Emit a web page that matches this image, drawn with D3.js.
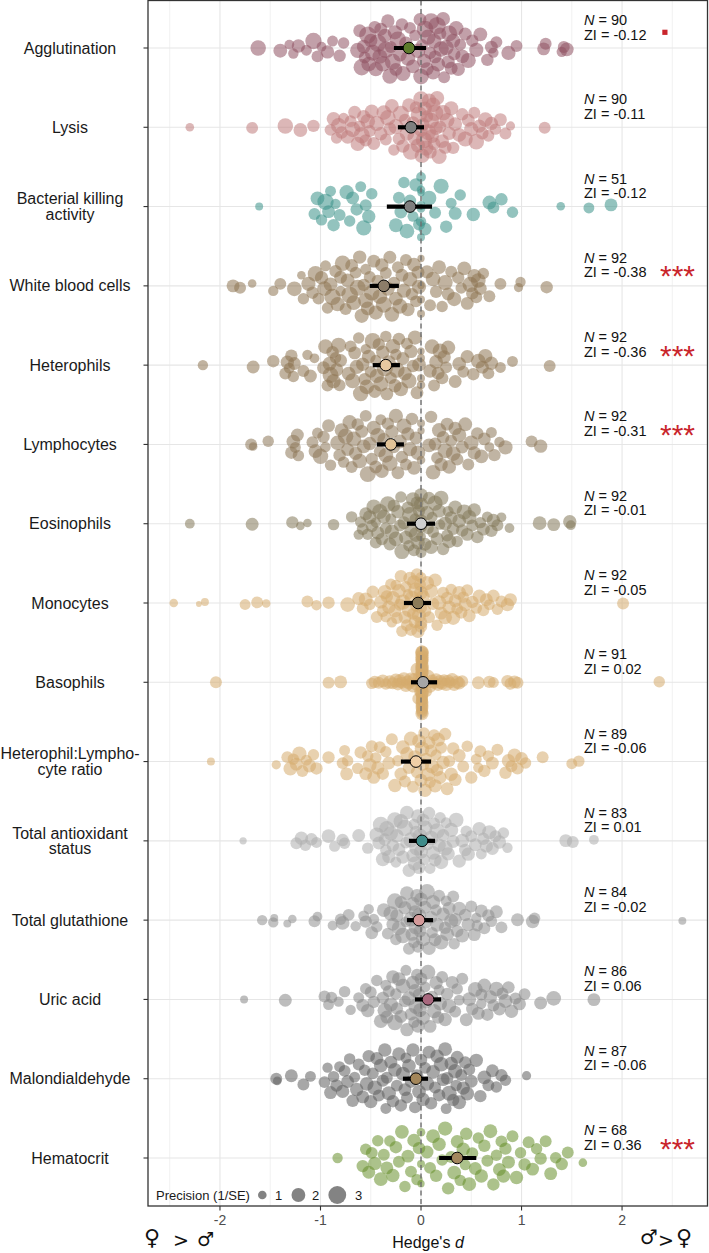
<!DOCTYPE html>
<html><head><meta charset="utf-8">
<script src="https://cdn.jsdelivr.net/npm/d3@7"></script>
<style>body{margin:0;background:#fff}svg text{font-family:"Liberation Sans",Arial,Helvetica,sans-serif}</style>
</head><body><svg id="c" width="709" height="1253"></svg>
<script>
const categories = ["Agglutination","Lysis","Bacterial killing activity","White blood cells","Heterophils","Lymphocytes","Eosinophils","Monocytes","Basophils","Heterophil:Lymphocyte ratio","Total antioxidant status","Total glutathione","Uric acid","Malondialdehyde","Hematocrit"];
const categoryLines = [["Agglutination"],["Lysis"],["Bacterial killing","activity"],["White blood cells"],["Heterophils"],["Lymphocytes"],["Eosinophils"],["Monocytes"],["Basophils"],["Heterophil:Lympho-","cyte ratio"],["Total antioxidant","status"],["Total glutathione"],["Uric acid"],["Malondialdehyde"],["Hematocrit"]];
const nValues = [90,90,51,92,92,92,92,92,91,89,83,84,86,87,68];
const ziValues = ["-0.12","-0.11","-0.12","-0.38","-0.36","-0.31","-0.01","-0.05","0.02","-0.06","0.01","-0.02","0.06","-0.06","0.36"];
const significance = [".","","","***","***","***","","","","","","","","","***"];
const estimates = [-0.12,-0.10,-0.11,-0.37,-0.35,-0.30,0.00,-0.03,0.02,-0.05,0.01,-0.02,0.07,-0.05,0.36];
const ciLow = [-0.27,-0.23,-0.34,-0.51,-0.48,-0.44,-0.14,-0.17,-0.10,-0.20,-0.12,-0.14,-0.06,-0.18,0.18];
const ciHigh = [0.05,0.03,0.11,-0.22,-0.21,-0.17,0.14,0.10,0.16,0.10,0.14,0.12,0.20,0.07,0.55];
const pointColors = ["#8f5263","#bf7b7b","#3a9189","#8e7552","#8e7552","#8c7657","#837859","#d6ab6e","#d6ab6e","#d6ab6e","#adadad","#909090","#868686","#5f5f5f","#67902c"];
const estimateFills = ["#5d7b2c","#7f7f7f","#7f7f7f","#8c7d69","#e8c9a1","#e3c497","#cfcfcf","#8c7b58","#a6a6a6","#f0cfa6","#3f8c8a","#d49a9a","#a8687e","#a3865a","#a3875e"];
const xTicks = [-2,-1,0,1,2];
const xTickLabels = ["-2","-1","0","1","2"];
const legendPrecision = [1,2,3];

// [Hedges' d, precision (1/SE)]
const agglutination = [[-1.62,2.4],[-1.40,2.0],[-1.31,1.2],[-1.27,1.3],[-1.22,1.9],[-1.14,1.4],[-1.07,2.6],[-1.03,1.6],[-0.99,1.2],[-0.93,1.9],[-0.88,1.4],[-0.81,1.7],[-0.77,1.5],
[-0.63,2.3],[-0.61,1.8],[-0.59,2.6],[-0.57,2.0],[-0.56,1.6],[-0.53,2.8],[-0.52,2.2],[-0.50,1.9],[-0.48,2.5],[-0.46,1.7],[-0.45,2.1],[-0.43,2.9],[-0.41,2.2],[-0.40,1.8],[-0.38,2.4],[-0.36,2.0],[-0.35,2.7],[-0.33,1.9],[-0.31,2.3],[-0.30,1.6],[-0.28,2.5],[-0.26,2.1],[-0.25,1.8],[-0.23,2.6],[-0.21,2.0],[-0.19,1.7],[-0.18,2.3],[-0.15,1.9],[-0.13,2.2],[-0.11,1.6],[-0.08,2.0],[-0.06,1.5],
[-0.03,2.2],[-0.01,1.8],[0.00,2.4],[0.01,1.6],[0.03,2.1],[0.04,2.7],[0.06,1.9],[0.07,2.3],[0.09,1.7],[0.10,2.6],[0.12,2.0],[0.13,2.2],[0.14,1.8],[0.16,2.9],[0.17,2.1],[0.19,1.7],[0.20,2.4],[0.22,2.0],[0.23,1.6],[0.25,2.3],[0.27,1.9],[0.28,2.5],[0.30,1.8],[0.32,2.1],[0.33,1.7],[0.35,2.2],[0.37,1.9],[0.39,1.6],[0.41,2.0],[0.44,1.8],[0.47,2.3],[0.51,1.7],[0.55,2.1],[0.59,2.0],
[0.66,1.7],[0.70,1.8],[0.72,1.3],[0.75,1.6],[0.87,2.1],[0.95,1.6],[1.22,1.8],[1.24,1.6],[1.40,1.3],[1.42,1.6],[1.45,2.0]];
const lysis = [[-2.30,1.0],[-1.68,1.6],[-1.35,2.4],[-1.20,2.0],[-1.07,1.7],
[-0.90,1.6],[-0.87,2.0],[-0.84,1.5],[-0.82,2.3],[-0.79,1.7],[-0.77,1.4],[-0.73,1.9],[-0.70,1.6],[-0.68,2.4],[-0.66,1.8],[-0.63,2.1],[-0.61,1.5],[-0.59,2.6],[-0.57,1.9],[-0.55,1.7],[-0.53,2.2],[-0.51,1.6],[-0.49,2.0],[-0.47,1.8],[-0.44,2.3],
[-0.40,1.9],[-0.37,2.2],[-0.35,1.6],[-0.33,2.4],[-0.31,1.8],[-0.29,2.0],[-0.27,1.5],[-0.25,2.3],[-0.22,1.7],[-0.20,2.5],[-0.18,1.9],[-0.16,1.6],[-0.14,2.2],[-0.12,2.0],[-0.10,2.6],[-0.08,1.8],[-0.06,2.3],[-0.05,1.7],[-0.03,2.1],[-0.02,2.7],[0.00,1.9],[0.00,2.4],[0.01,2.2],[0.02,1.8],[0.03,2.6],[0.04,2.0],[0.05,2.3],[0.06,1.7],[0.07,2.5],[0.08,2.1],[0.09,1.9],[0.10,2.4],[0.11,2.0],[0.12,2.2],[0.13,1.8],[0.14,2.6],[0.15,1.9],[0.16,2.1],[0.18,2.3],[0.19,1.7],[0.21,2.0],[0.22,2.4],[0.24,1.8],[0.26,2.2],[0.28,1.9],[0.30,2.1],[0.32,1.7],[0.34,2.0],
[0.38,2.0],[0.41,1.7],[0.44,2.3],[0.47,1.8],[0.50,2.1],[0.53,1.6],[0.55,2.4],[0.58,1.9],[0.61,1.7],[0.64,2.2],[0.67,1.6],[0.70,1.9],[0.74,1.5],[0.79,1.8],[0.84,1.6],[0.89,1.1],[1.23,1.6]];
const bacterialKilling = [[-1.61,0.9],
[-1.06,1.6],[-1.03,2.0],[-0.99,1.5],[-0.95,2.6],[-0.92,1.8],[-0.90,1.4],[-0.87,1.7],[-0.85,1.3],[-0.81,1.6],[-0.74,2.1],[-0.71,1.5],[-0.68,1.8],[-0.64,1.7],[-0.60,1.4],[-0.57,2.3],[-0.55,1.6],[-0.52,1.9],[-0.49,1.5],
[-0.25,2.0],[-0.22,1.6],[-0.20,1.8],[-0.17,1.5],[-0.14,2.2],[-0.11,1.7],[-0.08,1.4],[-0.05,1.9],[-0.02,1.6],[0,0.8],[0,1.0],[0,1.2],[0,0.9],[0,1.1],[0,1.3],[0,1.0],[0.04,1.8],[0.08,2.2],[0.14,1.6],[0.20,2.3],
[0.25,1.7],[0.30,1.4],[0.34,1.8],[0.39,1.5],[0.52,1.9],[0.68,2.0],[0.72,1.6],[0.80,1.7],[0.91,1.5],[1.39,1.0],[1.67,1.4],[1.89,1.8]];
const whiteBloodCells = [[-1.87,1.8],[-1.80,1.6],[-1.68,1.0],[-1.47,1.3],[-1.40,1.6],[-1.26,2.2],[-1.19,1.0],
[-1.17,1.5],[-1.12,2.1],[-1.08,1.7],[-1.05,2.4],[-1.02,1.6],[-0.99,1.9],[-0.96,2.2],[-0.93,1.5],[-0.90,2.0],[-0.88,2.6],[-0.85,1.7],[-0.83,2.1],[-0.80,1.8],[-0.78,2.4],[-0.75,1.6],[-0.73,2.0],[-0.71,2.7],[-0.69,1.8],[-0.67,2.2],[-0.65,1.6],[-0.63,2.5],[-0.61,1.9],[-0.59,2.1],[-0.57,1.7],[-0.55,2.3],[-0.53,2.0],[-0.51,1.6],[-0.49,2.4],[-0.47,1.8],[-0.45,2.1],[-0.43,1.7],[-0.41,2.2],[-0.39,1.9],[-0.37,2.5],[-0.35,1.6],[-0.33,2.0],[-0.31,1.8],[-0.29,2.2],[-0.27,1.7],[-0.25,2.0],[-0.23,1.6],[-0.21,2.3],[-0.19,1.8],[-0.17,2.1],[-0.15,1.6],[-0.13,1.9],[-0.11,2.2],[-0.09,1.7],[-0.07,2.0],[-0.05,1.6],[-0.03,1.8],[-0.02,2.1],[-0.55,1.4],[-0.80,1.3],[-0.95,1.4],
[0,0.8],[0,0.9],[0,0.8],[0,0.9],
[0.06,1.9],[0.09,1.6],[0.12,2.2],[0.15,1.7],[0.18,2.0],[0.21,1.5],[0.24,2.3],[0.27,1.8],[0.30,1.6],[0.33,2.1],[0.37,1.7],[0.40,1.5],[0.43,2.0],[0.46,1.8],[0.49,2.4],[0.51,1.7],[0.53,2.0],[0.55,1.6],[0.57,2.2],[0.59,1.8],[0.62,1.5],
[0.68,1.6],[0.79,1.6],[0.97,1.1],[0.99,1.3],[1.25,1.7]];
const heterophils = [[-2.17,1.3],[-1.67,1.8],[-1.47,1.7],
[-1.35,1.6],[-1.33,1.9],[-1.31,1.4],[-1.29,1.7],[-1.27,1.5],[-1.26,1.8],[-1.17,1.6],[-1.13,1.3],[-1.10,1.8],[-1.06,1.2],
[-0.97,1.8],[-0.95,2.2],[-0.93,1.6],[-0.91,2.0],[-0.90,2.5],[-0.88,1.7],[-0.87,2.1],[-0.85,1.5],[-0.84,1.9],[-0.82,2.3],[-0.81,1.6],[-0.80,1.8],
[-0.72,2.0],[-0.70,1.6],[-0.68,2.3],[-0.66,1.8],[-0.64,2.1],[-0.62,1.5],[-0.60,2.4],[-0.58,1.9],[-0.56,1.7],[-0.54,2.2],[-0.52,2.0],[-0.50,1.6],[-0.48,2.5],[-0.46,1.8],[-0.44,2.1],[-0.42,1.7],[-0.40,2.3],[-0.38,1.9],[-0.36,2.6],[-0.34,1.8],[-0.32,2.0],[-0.30,1.6],[-0.28,2.2],[-0.26,1.9],[-0.24,2.4],[-0.22,1.7],[-0.20,2.1],[-0.18,1.8],[-0.16,2.0],[-0.14,1.6],[-0.12,2.3],[-0.10,1.9],[-0.08,1.7],[-0.06,2.1],[-0.04,1.8],[-0.02,2.0],[-0.35,1.5],[-0.45,1.4],[-0.25,1.5],[-0.55,1.3],
[0,0.9],[0,0.8],[0,1.0],[0,0.9],
[0.09,1.9],[0.11,2.2],[0.13,1.6],[0.15,2.0],[0.17,1.8],[0.19,2.3],[0.21,1.7],[0.23,1.9],[0.25,1.6],[0.27,2.1],
[0.34,1.8],[0.38,2.0],[0.42,1.6],[0.46,1.9],[0.52,1.7],[0.57,2.2],[0.61,1.8],[0.64,2.1],[0.67,1.6],[0.70,1.9],
[0.79,1.4],[0.91,1.4],[1.28,1.6]];
const lymphocytes = [[-1.69,1.6],[-1.67,1.0],[-1.52,1.5],
[-1.29,1.7],[-1.27,2.0],[-1.25,1.4],[-1.23,1.8],[-1.22,1.5],
[-1.08,1.6],[-1.05,2.0],[-1.03,1.4],[-1.00,2.4],[-0.97,1.7],[-0.95,1.3],[-0.92,1.8],[-0.90,1.5],
[-0.83,2.2],[-0.81,1.7],[-0.79,2.0],[-0.77,1.5],[-0.75,2.4],[-0.73,1.8],[-0.71,2.1],[-0.69,1.6],[-0.67,2.3],[-0.65,1.9],[-0.63,1.7],[-0.61,2.2],[-0.59,1.8],[-0.57,2.0],[-0.55,1.6],[-0.53,2.5],[-0.51,1.9],[-0.49,1.7],[-0.47,2.1],[-0.45,1.8],[-0.43,2.3],[-0.41,1.6],[-0.39,2.0],[-0.37,1.8],[-0.35,2.2],[-0.33,1.7],[-0.31,2.4],[-0.29,1.9],[-0.27,1.6],[-0.25,2.1],[-0.23,1.8],[-0.21,2.0],[-0.19,1.7],[-0.17,2.3],[-0.15,1.6],[-0.13,1.9],[-0.11,2.1],[-0.09,1.7],[-0.07,2.0],[-0.05,1.8],[-0.03,2.2],[-0.40,1.4],
[0,0.9],[0,1.0],[0,0.8],
[0.08,2.0],[0.10,1.7],[0.12,2.2],[0.14,1.8],[0.16,1.6],[0.18,2.1],[0.20,1.9],[0.22,1.7],[0.24,2.3],[0.26,1.8],[0.28,2.0],[0.30,1.6],[0.32,2.2],[0.34,1.9],[0.36,1.7],[0.38,2.1],[0.41,1.8],[0.44,2.0],[0.47,1.6],[0.50,2.2],[0.53,1.9],[0.56,1.7],[0.60,2.0],[0.63,1.8],
[0.68,1.2],[0.73,1.7],[0.84,2.1],[1.10,1.6],[1.19,1.9],[0.70,1.4],[0.78,1.3]];
const eosinophils = [[-2.30,1.2],[-1.68,1.8],[-1.28,1.7],[-1.20,1.0],[-1.13,1.0],[-0.87,1.5],[-0.69,1.5],[-0.60,1.5],
[-0.55,1.8],[-0.53,1.5],[-0.51,2.0],[-0.49,1.7],[-0.47,2.2],[-0.45,1.6],[-0.43,1.9],[-0.41,2.3],[-0.39,1.7],[-0.37,2.0],[-0.35,1.6],[-0.33,2.4],[-0.31,1.8],[-0.29,2.1],[-0.27,1.7],[-0.25,2.2],[-0.23,1.9],[-0.21,1.6],[-0.19,2.3],[-0.17,1.8],[-0.15,2.0],[-0.13,1.7],[-0.11,2.5],[-0.10,1.9],[-0.08,2.1],[-0.07,1.6],[-0.05,2.2],[-0.04,1.8],[-0.03,2.0],[-0.02,1.7],[-0.30,1.4],[-0.20,1.5],[-0.12,1.5],[-0.45,1.3],[-0.06,1.4],
[0,1.6],[0,2.0],[0,1.4],[0,1.8],[0,1.2],[0,2.2],
[0.04,1.8],[0.06,2.1],[0.08,1.7],[0.10,2.0],[0.12,1.6],[0.14,2.3],[0.16,1.8],[0.18,1.9],[0.20,2.2],[0.22,1.7],[0.24,2.0],[0.26,1.6],[0.28,2.1],[0.30,1.8],[0.32,1.7],[0.34,2.0],[0.11,1.4],[0.19,1.3],[0.27,1.4],[0.07,1.5],
[0.38,2.0],[0.41,1.7],[0.43,2.3],[0.46,1.8],[0.48,2.1],[0.51,1.6],[0.53,1.9],[0.56,1.7],[0.59,1.5],[0.62,1.8],[0.66,1.4],[0.70,1.7],[0.72,1.9],[0.76,1.6],[0.80,1.2],
[1.18,2.0],[1.32,1.8],[1.48,1.9],[1.49,1.2],[-0.62,1.3],[-0.58,1.6],[0.88,1.2],[0.36,1.5]];
const monocytes = [[-2.46,1.0],[-2.21,0.6],[-2.15,0.9],[-1.75,1.4],[-1.63,1.6],[-1.54,1.0],[-1.13,1.6],[-1.04,1.3],[-0.92,1.7],[-0.73,2.2],
[-0.62,1.8],[-0.58,1.6],[-0.55,2.0],[-0.51,1.5],[-0.48,1.7],[-0.44,1.6],
[-0.40,1.9],[-0.38,1.6],[-0.36,2.1],[-0.34,1.7],[-0.32,1.9],[-0.30,1.5],[-0.28,2.2],[-0.26,1.8],[-0.24,1.6],[-0.22,2.0],[-0.20,1.7],[-0.18,2.3],[-0.16,1.8],[-0.14,1.6],[-0.12,2.1],[-0.11,1.9],[-0.10,1.7],[-0.09,2.2],[-0.08,1.6],[-0.07,2.0],[-0.06,1.8],[-0.05,2.4],[-0.04,1.7],[-0.03,1.9],[-0.02,2.1],[-0.01,1.6],[-0.35,1.4],[-0.25,1.4],[-0.15,1.5],[-0.13,1.3],[-0.19,1.5],[-0.29,1.3],[-0.21,1.6],[-0.05,1.5],[-0.03,1.4],
[0,1.8],[0,2.0],[0,1.6],[0,1.4],[0,1.7],
[0.02,1.9],[0.04,1.7],[0.06,2.1],[0.08,1.6],[0.10,2.0],[0.12,1.7],[0.14,1.9],[0.16,1.5],[0.18,2.2],[0.20,1.8],[0.22,1.6],[0.24,2.0],[0.26,1.7],[0.28,1.9],[0.30,1.5],[0.32,2.1],[0.34,1.8],[0.36,1.6],[0.38,2.0],[0.40,1.7],[0.42,1.5],[0.44,1.9],[0.46,1.6],[0.48,1.8],
[0.51,1.7],[0.55,1.5],[0.58,1.9],[0.62,1.6],[0.65,1.8],[0.68,1.4],[0.72,1.7],[0.76,1.5],[0.80,1.6],[0.86,1.9],[0.89,1.8],[2.01,1.6]];
const basophils = [[-2.04,1.6],[-0.92,1.6],[-0.80,1.8],
[-0.49,1.5],[-0.46,1.7],[-0.42,1.6],[-0.38,1.8],[-0.35,1.5],[-0.31,1.9],[-0.28,1.6],[-0.25,2.0],[-0.23,1.7],
[-0.21,1.9],[-0.19,1.6],[-0.17,2.0],[-0.15,1.7],[-0.13,1.8],[-0.12,1.5],[-0.10,2.1],[-0.08,1.7],[-0.07,1.9],[-0.05,1.6],[-0.04,1.8],[-0.03,1.5],[-0.02,1.7],[-0.01,1.6],
[0.01,1.8],[0.01,1.6],[0.01,1.9],[0.01,1.7],[0.01,2.0],[0.01,1.5],[0.01,1.8],[0.01,1.6],[0.01,1.9],[0.01,1.7],[0.01,1.8],[0.01,1.6],[0.01,2.0],[0.01,1.7],[0.01,1.5],[0.01,1.9],[0.01,1.8],[0.01,1.6],[0.01,1.7],[0.01,1.9],[0.01,1.8],[0.01,1.6],[0.01,2.0],[0.01,1.7],[0.01,1.5],[0.01,1.8],[0.01,1.9],[0.01,1.6],[0.01,1.7],[0.01,1.8],[0.01,1.6],[0.01,1.9],[0.01,1.7],[0.01,1.5],[0.01,1.8],[0.01,1.6],[0.01,1.7],[0.01,1.9],
[0.03,1.8],[0.05,1.6],[0.07,2.0],[0.09,1.7],[0.11,1.9],[0.13,1.6],[0.15,1.8],[0.17,1.5],[0.19,2.0],[0.21,1.7],[0.23,1.6],[0.25,1.9],[0.27,1.7],[0.29,1.5],[0.31,1.8],[0.33,1.6],[0.36,1.9],[0.38,1.7],[0.41,1.6],
[0.57,1.8],[0.68,1.7],[0.72,1.4],[0.86,1.7],[0.89,1.6],[0.93,1.8],[0.96,1.6],[2.37,1.5]];
const hlRatio = [[-2.09,0.9],[-1.44,1.1],
[-1.33,1.6],[-1.30,2.0],[-1.27,1.5],[-1.24,1.8],[-1.21,2.1],[-1.18,1.6],[-1.14,1.4],[-1.11,1.9],[-1.07,1.5],[-1.04,1.7],
[-0.92,1.7],[-0.78,1.6],[-0.76,1.4],[-0.74,1.8],[-0.73,1.5],
[-0.55,1.8],[-0.53,1.5],[-0.51,2.0],[-0.49,1.6],[-0.47,1.8],[-0.45,1.5],[-0.43,1.9],[-0.41,1.6],[-0.38,1.7],[-0.35,1.5],[-0.32,1.8],[-0.29,1.6],[-0.26,1.9],[-0.23,1.5],
[-0.20,1.8],[-0.18,2.0],[-0.16,1.6],[-0.14,1.9],[-0.12,1.7],[-0.10,2.1],[-0.08,1.6],[-0.06,1.9],[-0.04,1.7],[-0.02,2.0],[0.00,1.8],[0.01,2.2],[0.02,1.7],[0.04,1.9],[0.05,1.6],[0.07,2.0],[0.08,1.8],[0.10,1.7],[0.11,2.1],[0.13,1.6],[0.14,1.9],[0.16,1.7],[0.17,2.0],[0.19,1.8],[0.20,1.6],[0.22,1.9],[0.24,1.7],[0.26,1.8],[0.28,1.6],[0.30,1.9],[0.32,1.7],[0.34,1.8],[0.09,1.5],[0.15,1.4],[0.03,1.5],
[0.38,1.8],[0.42,1.6],[0.46,1.5],[0.50,1.7],[0.55,1.4],[0.59,1.6],[0.63,1.7],[0.67,1.5],[0.71,1.8],[0.76,1.6],
[0.84,1.7],[0.87,1.9],[0.90,1.6],[0.93,2.0],[0.96,1.7],[1.00,1.8],[1.04,1.5],
[1.21,1.6],[1.50,1.4],[1.57,1.5],[-0.63,1.5],[-0.60,1.7],[0.57,1.3]];
const totalAntioxidant = [[-1.77,0.8],
[-1.24,1.6],[-1.19,1.9],[-1.15,1.5],[-1.09,1.7],[-1.04,1.4],
[-0.92,2.0],[-0.86,1.4],[-0.78,1.7],[-0.76,1.5],[-0.62,1.8],[-0.53,1.5],
[-0.44,2.2],[-0.42,1.8],[-0.40,2.5],[-0.38,2.0],[-0.36,1.7],[-0.34,2.3],[-0.32,1.9],[-0.30,2.1],[-0.28,1.7],[-0.26,2.4],[-0.24,2.0],[-0.22,1.8],[-0.20,2.2],[-0.18,1.9],[-0.16,2.6],[-0.14,2.0],[-0.12,1.8],[-0.10,2.3],[-0.08,1.9],[-0.06,2.1],[-0.05,1.7],[-0.04,2.4],[-0.03,2.0],[-0.02,1.8],[-0.01,2.2],
[0.00,2.0],[0.02,1.8],[0.04,2.3],[0.06,1.9],[0.08,1.7],[0.10,2.2],[0.12,2.0],[0.14,1.8],[0.16,2.4],[0.18,1.9],[0.20,2.1],[0.22,1.7],[0.24,2.3],[0.27,1.9],[0.30,2.1],[0.32,1.8],[0.35,2.2],[0.38,1.9],
[0.41,2.0],[0.44,1.7],[0.47,1.9],[0.50,1.6],[0.54,1.8],[0.58,2.0],[0.62,1.7],[0.65,1.9],[0.68,2.1],[0.71,1.8],[0.74,1.6],[0.78,1.9],[0.82,1.5],[0.86,1.3],
[1.44,1.8],[1.51,1.6],[1.72,1.2],
[-0.35,1.5],[-0.25,1.4],[-0.15,1.5],[-0.07,1.4],[0.03,1.5],[0.09,1.4],[0.13,1.6],[0.19,1.5],[0.25,1.4],[0.45,1.5],[0.60,1.4]];
const totalGlutathione = [[-1.58,1.3],[-1.47,1.3],[-1.46,0.9],[-1.33,0.9],[-1.28,1.0],[-1.06,1.6],[-1.03,1.2],[-0.88,1.2],[-0.78,2.0],[-0.72,1.6],[-0.57,1.4],[-0.55,1.7],[-0.52,1.3],[-0.49,1.8],[-0.47,1.4],[-0.44,1.5],[-0.37,2.0],[-0.33,1.6],[-0.80,1.5],
[-0.30,2.2],[-0.28,1.8],[-0.26,2.5],[-0.24,1.9],[-0.22,2.1],[-0.20,1.7],[-0.18,2.4],[-0.16,1.9],[-0.14,2.0],[-0.12,1.6],[-0.10,2.2],[-0.09,1.8],[-0.08,2.0],[-0.06,1.7],[-0.05,2.3],[-0.04,1.9],[-0.03,1.6],[-0.02,2.1],[-0.01,1.8],[0.00,2.0],
[0.02,2.2],[0.04,1.8],[0.06,2.4],[0.08,1.9],[0.10,1.7],[0.12,2.1],[0.14,1.8],[0.16,2.0],[0.18,1.6],[0.20,2.2],[0.22,1.9],[0.24,1.7],[0.26,2.0],[0.28,1.8],[0.30,2.1],[0.32,1.6],[0.34,1.9],[0.36,1.7],[0.38,2.0],[0.15,1.5],
[0.41,2.0],[0.44,1.7],[0.47,1.9],[0.50,1.6],[0.53,1.8],[0.56,1.5],[0.60,1.8],[0.63,1.6],[0.67,1.7],[0.70,1.5],[0.75,1.8],[0.80,1.6],
[0.96,1.8],[1.11,1.9],[1.13,1.5],[2.60,0.9],
[-0.25,1.5],[-0.15,1.4],[-0.07,1.5],[0.05,1.4],[0.11,1.5],[0.25,1.4],[0.33,1.5],[0.55,1.3],[-0.65,1.3]];
const uricAcid = [[-1.76,0.9],[-1.35,1.8],
[-0.96,1.6],[-0.92,1.4],[-0.89,1.5],[-0.82,1.3],[-0.76,1.5],
[-0.58,1.8],[-0.55,1.5],[-0.53,1.9],[-0.50,1.6],[-0.47,1.7],[-0.44,1.5],
[-0.40,2.0],[-0.38,1.7],[-0.36,2.2],[-0.34,1.8],[-0.32,1.6],[-0.30,2.1],[-0.28,1.9],[-0.26,2.4],[-0.24,1.7],[-0.22,2.0],[-0.20,1.8],[-0.18,2.2],[-0.16,1.6],[-0.14,1.9],[-0.12,2.1],[-0.10,1.7],[-0.08,2.0],[-0.06,1.8],[-0.05,2.3],[-0.04,1.6],[-0.03,1.9],[-0.02,1.7],[-0.01,2.0],[0.00,1.8],[-0.35,1.4],[-0.25,1.5],[-0.15,1.4],[-0.07,1.5],
[0.02,2.0],[0.05,1.7],[0.07,2.2],[0.09,1.8],[0.11,1.6],[0.13,2.1],[0.15,1.9],[0.17,1.7],[0.19,2.0],[0.21,1.6],[0.24,1.9],[0.26,1.7],[0.28,2.1],[0.31,1.8],[0.34,1.6],
[0.45,1.8],[0.48,2.0],[0.51,1.7],[0.54,2.2],[0.57,1.8],[0.60,1.6],[0.63,2.0],[0.66,1.7],[0.69,1.9],[0.72,1.6],[0.75,2.2],[0.78,1.8],[0.81,1.6],[0.84,2.0],[0.87,1.7],[0.90,1.9],[0.94,1.6],[0.98,1.8],
[1.03,1.6],[1.19,1.8],[1.32,2.2],[1.72,1.8],
[-0.70,1.3],[-0.62,1.4],[0.38,1.4],[0.41,1.6],[0.36,1.5],[0.18,1.4],[0.04,1.4],[0.60,1.3]];
const malondialdehyde = [[-1.44,1.6],[-1.43,1.0],[-1.29,1.8],[-1.17,1.6],[-1.10,1.4],
[-0.96,1.6],[-0.93,1.3],[-0.90,1.8],[-0.87,1.5],[-0.84,1.7],[-0.81,1.4],[-0.78,1.9],[-0.76,1.6],[-0.73,1.8],[-0.71,1.5],[-0.68,1.7],[-0.66,1.4],[-0.64,1.9],[-0.62,1.6],
[-0.58,1.8],[-0.56,1.5],[-0.54,2.0],[-0.52,1.7],[-0.50,1.9],[-0.48,1.6],[-0.46,2.2],[-0.44,1.8],[-0.42,1.6],[-0.40,2.0],[-0.38,1.7],[-0.36,1.9],[-0.34,1.6],[-0.32,2.1],[-0.30,1.8],[-0.28,1.7],[-0.26,2.0],[-0.24,1.6],[-0.22,1.9],[-0.20,1.7],[-0.18,2.1],[-0.16,1.8],[-0.14,1.6],[-0.12,2.0],[-0.10,1.7],[-0.08,1.9],[-0.06,1.6],[-0.04,1.8],[-0.02,2.0],[0.00,1.7],
[0.02,1.9],[0.04,1.6],[0.06,2.1],[0.08,1.8],[0.10,1.7],[0.12,2.0],[0.14,1.6],[0.16,1.9],[0.18,1.7],[0.20,2.2],[0.22,1.8],[0.24,2.0],[0.26,1.7],[0.28,2.3],[0.30,1.9],[0.32,1.7],[0.34,2.1],[0.36,1.8],[0.38,2.0],[0.40,1.6],[0.42,1.9],[0.44,1.7],[0.46,2.0],[0.48,1.6],[0.50,1.8],
[0.55,1.9],[0.59,1.7],[0.63,2.0],[0.67,1.6],[0.71,1.8],[0.75,1.5],[0.80,1.7],[0.84,1.5],[1.05,1.1],
[-0.35,1.4],[-0.15,1.4],[0.25,1.4],[0.35,1.5]];
const hematocrit = [[-0.83,1.3],
[-0.58,1.7],[-0.55,1.5],[-0.52,1.8],[-0.49,1.6],[-0.46,1.9],[-0.43,1.5],[-0.40,2.0],[-0.37,1.6],[-0.34,1.8],[-0.31,1.5],[-0.28,1.9],[-0.25,1.7],[-0.22,1.6],[-0.19,2.0],[-0.16,1.5],[-0.13,1.8],[-0.10,1.6],[-0.07,1.9],[-0.04,1.5],[-0.02,1.7],
[0,0.9],[0,1.0],[0,0.8],
[0.06,1.8],[0.09,1.6],[0.12,2.0],[0.15,1.7],[0.18,1.9],[0.21,1.5],[0.24,2.1],[0.27,1.7],[0.30,1.6],[0.33,2.0],[0.36,1.8],[0.39,1.5],[0.42,1.9],[0.45,1.7],[0.48,2.0],[0.51,1.6],[0.54,1.8],[0.57,1.5],[0.60,1.9],[0.63,1.7],[0.66,1.6],[0.69,2.0],[0.72,1.7],[0.75,1.5],[0.78,1.8],[0.80,1.6],[0.82,1.9],[0.84,1.7],[0.44,1.4],
[0.87,1.8],[0.91,1.6],[0.95,1.9],[0.99,1.5],[1.03,1.7],[1.07,1.6],[1.11,1.8],[1.15,1.5],[1.19,1.7],[1.24,1.6],[1.29,1.8],[1.34,1.5],[1.40,1.7],[1.46,1.6],[1.61,1.0]];

const rowData = [agglutination,lysis,bacterialKilling,whiteBloodCells,heterophils,lymphocytes,eosinophils,monocytes,basophils,hlRatio,totalAntioxidant,totalGlutathione,uricAcid,malondialdehyde,hematocrit];

const svg = d3.select("#c");
const PL = 148, PR = 708, PT = 0.5, PB = 1206;
const x = d3.scaleLinear().domain([-2.716, 2.855]).range([PL, PR]);
const y = d3.scalePoint().domain(categories).range([48, 1158]);
const r = d3.scaleSqrt().domain([1, 3]).range([4.3, 8.9]);
const halfWidth = 0.4 * y.step();

// quasirandom offsets (van der Corput sequence scaled by kernel density)
function vdc(n){let v=0,den=1;while(n>0){den*=2;v+=(n%2)/den;n=Math.floor(n/2);}return v;}
function nrd0(vals){
  const s=[...vals].sort(d3.ascending);
  const sd=d3.deviation(s);
  const iqr=d3.quantile(s,0.75)-d3.quantile(s,0.25);
  let lo=Math.min(sd, iqr/1.34); if(!(lo>0)) lo=sd||1;
  return 0.9*lo*Math.pow(s.length,-0.2);
}
function quasi(vals){
  const bw=nrd0(vals);
  const dens=vals.map(v=>d3.sum(vals,u=>Math.exp(-0.5*((v-u)/bw)**2)));
  const mx=d3.max(dens);
  const idx=d3.range(vals.length).sort((a,b)=>(vals[a]-vals[b])||(a-b));
  const rank=new Array(vals.length); idx.forEach((k,i)=>rank[k]=i+1);
  return vals.map((v,i)=>(vdc(rank[i])-0.5)*2*dens[i]/mx);
}

// grid
const grid = svg.append("g");
d3.range(-2.5, 2.51, 0.5).forEach(t=>{
  const major = Math.abs(t - Math.round(t)) < 1e-6;
  grid.append("line").attr("x1",x(t)).attr("x2",x(t)).attr("y1",PT).attr("y2",PB)
    .attr("stroke", major?"#e6e6e6":"#eeeeee").attr("stroke-width", major?1.1:0.8);
});
categories.forEach(c=>{
  grid.append("line").attr("x1",PL).attr("x2",PR).attr("y1",y(c)).attr("y2",y(c))
    .attr("stroke","#e6e6e6").attr("stroke-width",1.1);
});

// points
const pts = svg.append("g");
rowData.forEach((rows,i)=>{
  const vals = rows.map(d=>d[0]);
  const off = quasi(vals);
  const cy = y(categories[i]);
  pts.selectAll(null).data(rows).enter().append("circle")
    .attr("cx",d=>x(d[0]))
    .attr("cy",(d,j)=>cy - off[j]*halfWidth)
    .attr("r",d=>r(d[1]))
    .attr("fill",pointColors[i]).attr("fill-opacity",0.55);
});

// zero line
svg.append("line").attr("x1",x(0)).attr("x2",x(0)).attr("y1",PT).attr("y2",PB)
  .attr("stroke","#6f6f6f").attr("stroke-width",1.4).attr("stroke-dasharray","5,3.5");

// estimates
const est = svg.append("g");
categories.forEach((c,i)=>{
  est.append("line").attr("x1",x(ciLow[i])).attr("x2",x(ciHigh[i])).attr("y1",y(c)).attr("y2",y(c))
    .attr("stroke","#000").attr("stroke-width",4.2);
});
categories.forEach((c,i)=>{
  est.append("circle").attr("cx",x(estimates[i])).attr("cy",y(c)).attr("r",5.8)
    .attr("fill",estimateFills[i]).attr("stroke","#000").attr("stroke-width",1);
});

// annotations
const ann = svg.append("g");
categories.forEach((c,i)=>{
  const cy=y(c);
  const t1=ann.append("text").attr("x",584).attr("y",cy-23).attr("font-size",14.5).attr("fill","#111");
  t1.append("tspan").attr("font-style","italic").text("N");
  t1.append("tspan").text(" = "+nValues[i]);
  ann.append("text").attr("x",584).attr("y",cy-8.5).attr("font-size",14.5).attr("fill","#111").text("ZI = "+ziValues[i]);
  if(significance[i]==="***"){
    ann.append("text").attr("x",660).attr("y",cy+0.5).attr("font-size",30).attr("fill","#c9252c").text("***");
  } else if(significance[i]==="."){
    ann.append("rect").attr("x",662.3).attr("y",cy-18.3).attr("width",5.2).attr("height",5.2).attr("fill","#c9252c");
  }
});

// panel border
svg.append("rect").attr("x",PL).attr("y",PT).attr("width",PR-PL-0.5).attr("height",PB-PT)
  .attr("fill","none").attr("stroke","#333").attr("stroke-width",1.3);

// y axis
const yAx = svg.append("g");
categories.forEach((c,i)=>{
  const cy=y(c);
  yAx.append("line").attr("x1",PL-4.5).attr("x2",PL).attr("y1",cy).attr("y2",cy).attr("stroke","#333").attr("stroke-width",1.1);
  const lines=categoryLines[i];
  const t=yAx.append("text").attr("text-anchor","middle").attr("font-size",16).attr("fill","#1a1a1a");
  const base = lines.length===1 ? cy+5.5 : cy-2.2;
  lines.forEach((ln,k)=>t.append("tspan").attr("x",70).attr("y",base+k*15.5).text(ln));
});

// x axis
const xAx = svg.append("g");
xTicks.forEach((t,i)=>{
  xAx.append("line").attr("x1",x(t)).attr("x2",x(t)).attr("y1",PB).attr("y2",PB+4.5).attr("stroke","#333").attr("stroke-width",1.1);
  xAx.append("text").attr("x",x(t)).attr("y",1225).attr("text-anchor","middle").attr("font-size",14).attr("fill","#4d4d4d").text(xTickLabels[i]);
});
const xt = svg.append("text").attr("x",(PL+PR)/2).attr("y",1248).attr("text-anchor","middle").attr("font-size",16).attr("fill","#111");
xt.append("tspan").text("Hedge's ");
xt.append("tspan").attr("font-style","italic").text("d");

function symText(tx,xx,yy,fs){svg.append("text").attr("x",xx).attr("y",yy).style("font-family","'DejaVu Sans'").attr("font-size",fs).attr("fill","#111").text(tx);}
symText("\u2640",144,1245,22); symText(">",173,1247,19); symText("\u2642",197,1246,19);
symText("\u2642",640,1244,20); symText(">",658,1247,19); symText("\u2640",676,1245,22);

// legend
const lg = svg.append("g");
lg.append("text").attr("x",156).attr("y",1199.5).attr("font-size",13).attr("fill","#1a1a1a").text("Precision (1/SE)");
const lgX=[262.3,298.4,337.3], lgL=[275,312,355];
legendPrecision.forEach((p,i)=>{
  lg.append("circle").attr("cx",lgX[i]).attr("cy",1195).attr("r",r(p)).attr("fill","#5a5a5a").attr("fill-opacity",0.75);
  lg.append("text").attr("x",lgL[i]).attr("y",1199.5).attr("font-size",13).attr("fill","#1a1a1a").text(p);
});
</script></body></html>
